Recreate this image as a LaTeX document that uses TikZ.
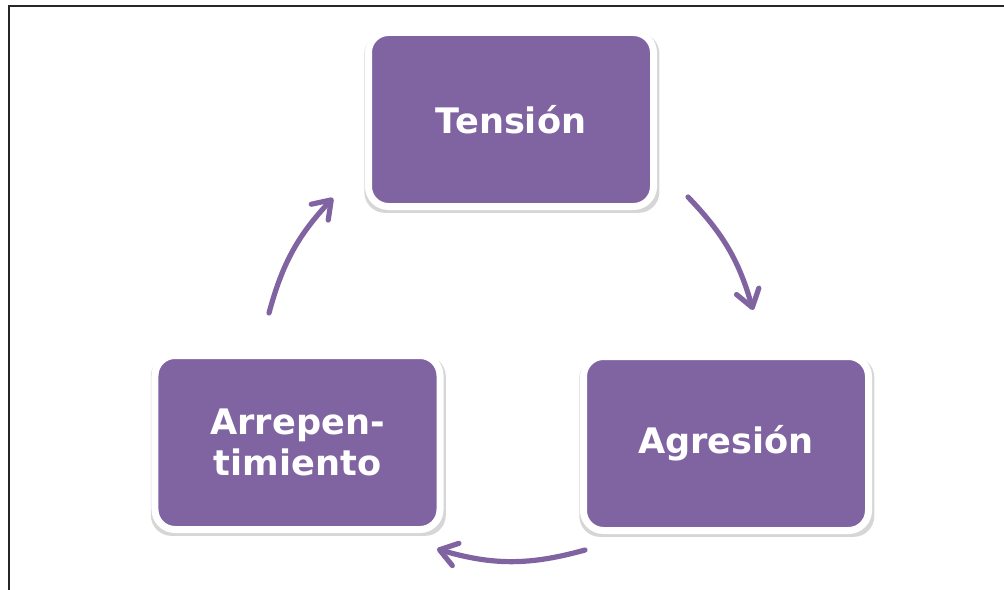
\documentclass[tikz,border=0pt]{standalone}
\usepackage{fontspec}
\setmainfont{DejaVu Sans}
\usetikzlibrary{arrows.meta,shadows}
\definecolor{cyclepurple}{RGB}{128,100,162}
\definecolor{framegray}{RGB}{38,38,38}
\begin{document}
\begin{tikzpicture}[x=0.25mm, y=-0.25mm]
    % Define styles for the cycle
    \tikzstyle{box}=[rectangle, rounded corners=5mm, fill=cyclepurple, draw=white, line width=1.75mm,
      minimum width=71.25mm, minimum height=43.5mm, inner sep=0pt, align=center, text=white,
      font=\bfseries\fontsize{25}{29}\selectfont,
      drop shadow={shadow xshift=0.2mm, shadow yshift=-0.8mm, shadow scale=1.035, opacity=0.16, fill=black}]
    \tikzstyle{cyc}=[draw=cyclepurple, line width=1.3mm, line cap=round,
      -{Straight Barb[length=4.2mm, width=5.8mm, round]}]

    \useasboundingbox (0,0) rectangle (1004,590);

    % Frame (top and left only)
    \draw[framegray, line width=0.6mm] (9,590) -- (9,6) -- (1004,6);

    % Box (Tension)
    \node[box] (tension) at (511,119.5) {Tensión};

    % Box (Agresion)
    \node[box] (agresion) at (726,443.5) {Agresión};

    % Box (Arrepentimiento)
    \node[box] (arrep) at (297.5,442.5) {Arrepen-\\timiento};

    % Ends of the arrows
    \coordinate (a1) at (688,197);
    \coordinate (b1) at (753,310);
    \coordinate (a2) at (585,550);
    \coordinate (b2) at (437,549);
    \coordinate (a3) at (269,313);
    \coordinate (b3) at (333,198);

    \draw[cyc] (a1) to[bend left=14] (b1);
    \draw[cyc] (a2) to[bend left=16] (b2);
    \draw[cyc] (a3) to[bend left=14] (b3);

\end{tikzpicture}
\end{document}
